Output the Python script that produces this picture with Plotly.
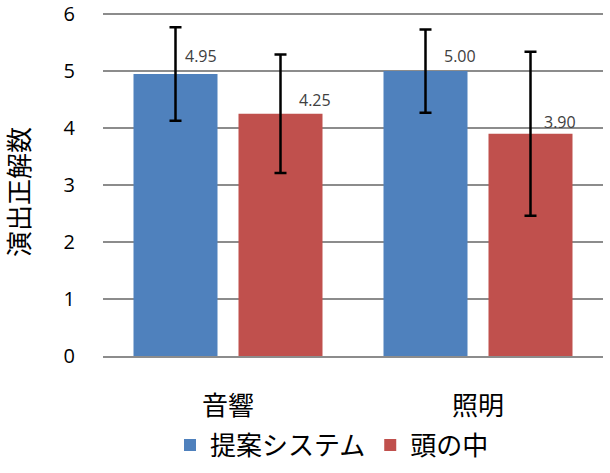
import plotly.graph_objects as go

categories = ["音響", "照明"]
series_names = ["提案システム", "頭の中"]
proposed = [4.95, 5.00]
in_head = [4.25, 3.90]
proposed_err = [0.82, 0.73]
in_head_err = [1.04, 1.44]
y_title = "演出正解数"
label_fmt = "{:.2f}"
colors = ["#4F81BD", "#C0504D"]

cjk = "Noto Sans CJK JP"

fig = go.Figure()
for name, vals, errs, col in [
    (series_names[0], proposed, proposed_err, colors[0]),
    (series_names[1], in_head, in_head_err, colors[1]),
]:
    fig.add_trace(go.Bar(
        x=categories, y=vals, name=name, marker=dict(color=col, line=dict(width=0)),
        error_y=dict(type="data", array=errs, visible=True, color="black",
                     thickness=2.5, width=6),
    ))

# value labels (pixel offsets relative to bar tops)
xshifts = [[-27.5, -18.5], [86.5, 81.5]]
yshifts = [[18, 15], [14, 12]]
for i, cat in enumerate(categories):
    for j, vals in enumerate([proposed, in_head]):
        fig.add_annotation(x=cat, y=vals[i], xref="x", yref="y",
                           text=label_fmt.format(vals[i]), showarrow=False,
                           xshift=xshifts[j][i], yshift=yshifts[j][i], yanchor="middle",
                           font=dict(family="Open Sans", size=16, color="#404040"))

# y-axis title
fig.add_annotation(x=-0.172, y=0.478, xref="paper", yref="paper", text=y_title,
                   textangle=-90, showarrow=False, xanchor="center", yanchor="middle",
                   font=dict(family=cjk, size=26, color="#000000"))

fig.update_layout(
    width=610, height=473,
    margin=dict(l=103, r=7, t=13, b=117, autoexpand=False),
    plot_bgcolor="white", paper_bgcolor="white",
    barmode="group", bargap=0.16, bargroupgap=0.2,
    showlegend=True,
    legend=dict(orientation="h", x=0.458, xanchor="center", xref="paper",
                y=-0.26, yanchor="middle",
                font=dict(family=cjk, size=26, color="#000000"),
                itemwidth=30, tracegroupgap=0),
    font=dict(family=cjk, color="#000000"),
)
fig.update_xaxes(
    showgrid=False, showline=True, linecolor="#8c8c8c", linewidth=2,
    tickfont=dict(family=cjk, size=26, color="#000000"),
    ticks="", ticklabelstandoff=26, automargin=False,
)
fig.update_yaxes(
    range=[0, 6.02], tickvals=[0, 1, 2, 3, 4, 5, 6], showgrid=True,
    gridcolor="#8c8c8c", gridwidth=2,
    zeroline=False, showline=False, automargin=False,
    tickfont=dict(family="Open Sans", size=20, color="#000000"),
    ticks="", ticklabelstandoff=27, ticklabeloverflow="allow",
)
fig.write_html("out.html")
